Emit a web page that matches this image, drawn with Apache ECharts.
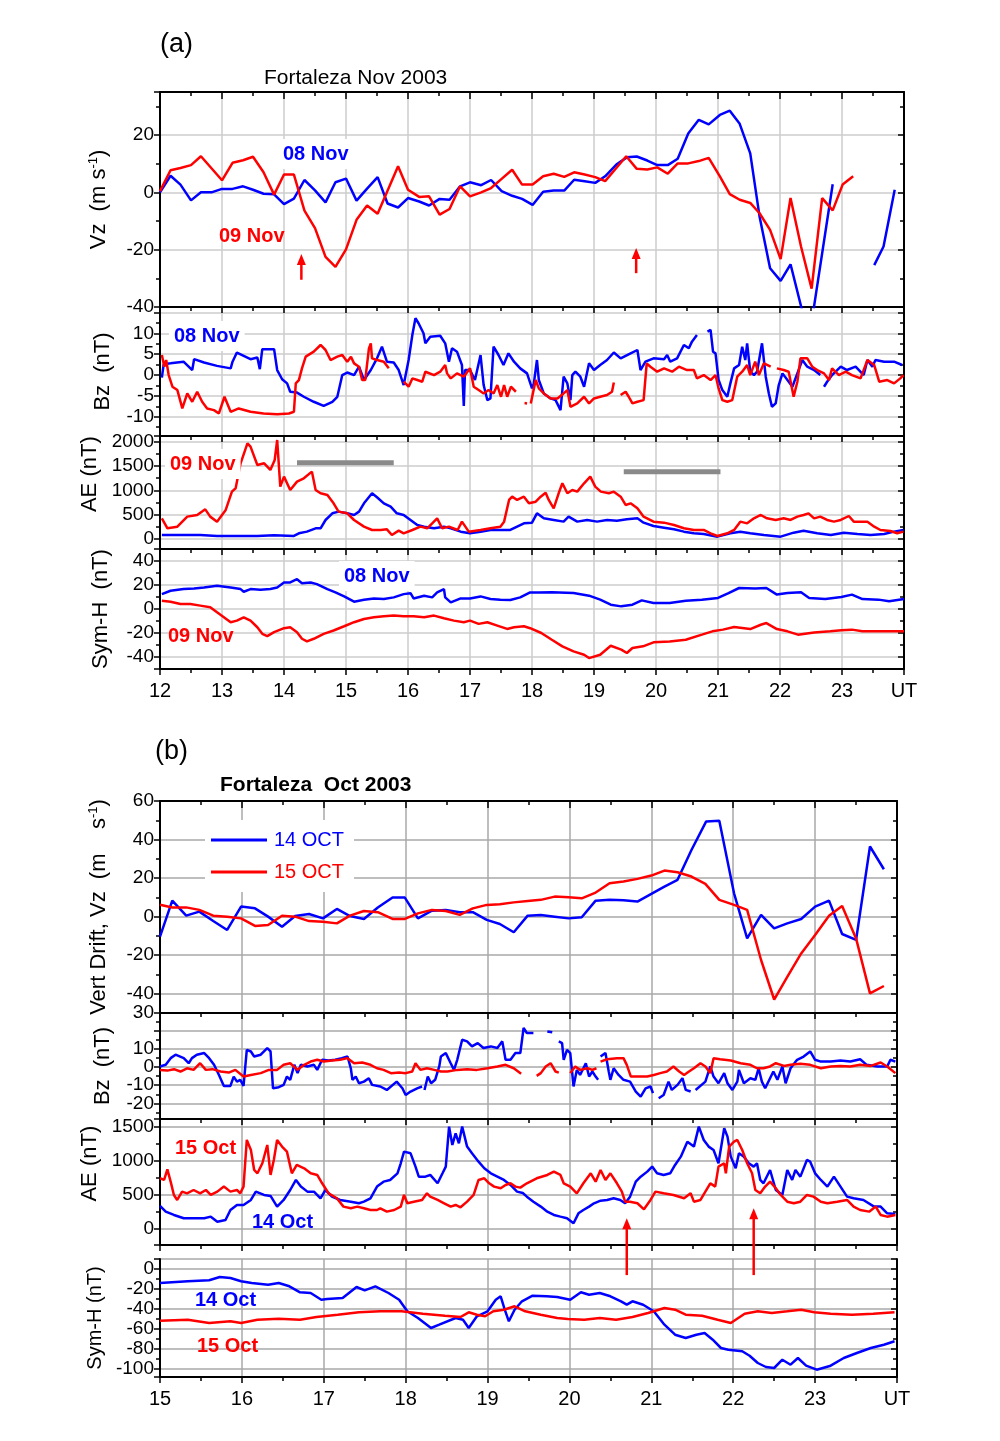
<!DOCTYPE html>
<html><head><meta charset="utf-8">
<script src="https://cdn.jsdelivr.net/npm/echarts@6/dist/echarts.min.js"></script>
<style>html,body{margin:0;padding:0;background:#fff}#c{width:1000px;height:1441px}</style>
</head><body><div id="c"></div>
<script>
// ---------------- DATA (hour UT, value) ----------------
const lastTickLabel = 'UT';
const hoursA = [12, 24];
const hoursB = [15, 24];

const vzA08 = [[12.0,0],[12.17,5.8],[12.33,2.7],[12.5,-2.8],[12.66,0],[12.83,0],[13.0,1.2],[13.17,1.2],[13.34,2.1],[13.5,0.9],[13.67,-0.5],[13.84,-0.7],[14.0,-4.1],[14.16,-2.2],[14.33,4.3],[14.5,0.7],[14.67,-3.5],[14.83,3.5],[15.0,4.8],[15.17,-2.9],[15.34,1.3],[15.51,5.3],[15.67,-3.9],[15.84,-5.3],[16.0,-2.0],[16.18,-3.2],[16.34,-4.6],[16.51,-2.3],[16.67,-2.6],[16.84,2.1],[17.0,3.5],[17.18,2.5],[17.34,4.3],[17.51,0.4],[17.68,-1.2],[17.84,-2.3],[18.01,-4.4],[18.18,0.2],[18.35,0.6],[18.52,0.6],[18.68,4.4],[18.85,3.9],[19.02,3.3],[19.18,5.6],[19.36,9.7],[19.53,12.2],[19.69,12.5],[19.86,11.1],[20.02,9.5],[20.19,9.5],[20.35,11.7],[20.52,20.5],[20.69,25.3],[20.85,23.7],[21.03,27.0],[21.19,28.5],[21.35,23.9],[21.52,13.6],[21.67,-8.4],[21.84,-26.5],[22.01,-30.9],[22.17,-25.1],[22.47,-51],[22.85,2.8],[23.2,null],[23.52,-25.4],[23.67,-18.9],[23.85,0.9]];
const vzA09 = [[12.0,0.4],[12.17,7.7],[12.33,8.5],[12.5,9.5],[12.66,12.6],[13.0,4.2],[13.17,10.3],[13.34,11.2],[13.5,12.4],[13.67,7.0],[13.84,-0.8],[14.0,6.2],[14.16,6.2],[14.33,-6.4],[14.5,-12.5],[14.67,-22.5],[14.83,-26.0],[15.0,-19.9],[15.17,-9.6],[15.34,-4.6],[15.51,-7.5],[15.84,9.1],[16.0,0.9],[16.18,-1.6],[16.34,-1.4],[16.51,-7.8],[16.67,-5.8],[16.84,2.1],[17.0,-1.4],[17.18,0],[17.34,1.5],[17.51,4.7],[17.68,7.9],[17.84,2.7],[18.01,2.7],[18.18,5.6],[18.35,6.5],[18.52,5.4],[18.68,7.0],[18.85,6.2],[19.02,5.3],[19.18,3.9],[19.36,8.5],[19.52,12.6],[19.69,8.2],[19.86,8.0],[20.02,8.7],[20.19,6.5],[20.35,10.1],[20.52,10.1],[20.69,10.9],[20.85,12.0],[21.03,5.6],[21.19,-0.6],[21.35,-2.6],[21.52,-3.7],[21.67,-7.3],[21.84,-13.1],[22.01,-23.3],[22.17,-2.0],[22.34,-19.0],[22.51,-33.6],[22.68,-2.0],[22.85,-6.3],[23.01,2.7],[23.18,5.6]];

const bzA08 = [[12.03,-0.6],[12.06,2.6],[12.17,2.8],[12.38,3.2],[12.52,1.2],[12.55,3.8],[12.71,3.0],[12.92,2.2],[13.14,1.6],[13.17,3.2],[13.24,5.4],[13.35,4.6],[13.46,3.8],[13.57,4.2],[13.61,1.4],[13.65,6.2],[13.84,6.2],[13.89,1.2],[13.97,-1.0],[14.05,-2.0],[14.1,-4.0],[14.21,-4.2],[14.32,-5.2],[14.48,-6.4],[14.64,-7.4],[14.78,-6.4],[14.86,-5.2],[14.94,0],[15.02,0.6],[15.13,0],[15.21,2.0],[15.29,-1.2],[15.4,1.2],[15.5,4.0],[15.58,6.8],[15.66,3.2],[15.77,3.0],[15.85,1.2],[15.93,-2.4],[16.01,3.6],[16.07,9.6],[16.12,13.6],[16.17,12.4],[16.25,10.0],[16.28,7.6],[16.36,9.2],[16.52,9.4],[16.6,7.6],[16.66,3.2],[16.71,6.4],[16.79,5.6],[16.87,2.4],[16.9,-7.4],[16.92,1.2],[17.0,1.2],[17.08,-1.2],[17.17,4.8],[17.22,-2.4],[17.28,-6.0],[17.33,-5.6],[17.38,6.8],[17.46,4.8],[17.54,2.4],[17.62,5.2],[17.71,3.2],[17.81,1.6],[17.92,0.4],[18.0,-3.2],[18.03,-2],[18.08,3.6],[18.11,-1.2],[18.19,-4.4],[18.3,-5.6],[18.38,-6.0],[18.46,-8.4],[18.51,-0.4],[18.57,-2],[18.62,-6],[18.65,0],[18.7,0.8],[18.78,-0.4],[18.84,-2.8],[18.92,2.8],[19.0,1.2],[19.1,2.4],[19.21,3.6],[19.32,5.4],[19.43,4.0],[19.59,5.2],[19.7,6.0],[19.75,1.2],[19.83,3.2],[19.96,4.0],[20.13,3.8],[20.18,4.8],[20.23,3.2],[20.34,4.0],[20.45,7.2],[20.53,6.4],[20.58,8.0],[20.66,9.6],[20.72,null],[20.83,10.4],[20.88,10.8],[20.92,5.6],[20.96,5.2],[21.01,-1.2],[21.07,-3.6],[21.15,-5.2],[21.2,-2.0],[21.26,1.6],[21.34,2.4],[21.39,6.8],[21.44,3.6],[21.47,7.6],[21.52,0.8],[21.58,0],[21.63,0.8],[21.71,7.6],[21.77,-0.4],[21.82,-4.4],[21.87,-7.6],[21.93,-6.8],[21.98,-2.4],[22.04,0.4],[22.12,-1.2],[22.2,-2.8],[22.28,0.4],[22.36,3.6],[22.44,2.0],[22.55,1.2],[22.65,0],[22.68,null],[22.71,-2.8],[22.76,-1.6],[22.84,0],[22.98,2.0],[23.08,1.2],[23.22,2.0],[23.35,0],[23.41,3.6],[23.49,2.0],[23.54,3.6],[23.68,3.2],[23.84,3.2],[23.97,2.4]];
const bzA09 = [[12.03,4.8],[12.07,2.0],[12.1,3.6],[12.14,0],[12.2,-2.8],[12.28,-3.6],[12.36,-8],[12.44,-4.4],[12.52,-6.4],[12.6,-4],[12.68,-6.4],[12.76,-8],[12.87,-8.4],[12.95,-9.2],[13.04,-5.2],[13.14,-8.8],[13.27,-8],[13.46,-8.8],[13.67,-9.2],[13.89,-9.4],[14.08,-9.2],[14.16,-8.8],[14.19,-2],[14.24,-1.2],[14.29,1.6],[14.35,4.4],[14.48,5.6],[14.59,7.2],[14.67,6.0],[14.75,3.6],[14.86,4.4],[14.94,4.8],[15.02,3.2],[15.08,4.4],[15.13,2.8],[15.21,2.0],[15.26,-1.2],[15.31,-1.2],[15.37,6.4],[15.4,7.6],[15.42,4.0],[15.5,3.6],[15.61,3.2],[15.69,1.6],[15.72,null],[15.93,-1.6],[16.01,-2.8],[16.07,-0.8],[16.15,-1.2],[16.23,-1.6],[16.28,0.8],[16.42,0],[16.52,0.8],[16.6,2.4],[16.63,0.4],[16.69,-0.8],[16.79,0.4],[16.9,-0.4],[17.0,1.6],[17.06,-2.8],[17.14,-3.6],[17.22,-4.4],[17.3,-3.6],[17.38,-4.4],[17.44,-2.4],[17.5,-5.2],[17.55,-2.4],[17.6,-5.2],[17.66,-2.8],[17.74,-4.0],[17.8,null],[17.88,-6.7],[17.92,-6.8],[17.94,null],[17.98,-6.8],[18.06,-1.2],[18.11,-3.2],[18.19,-4.4],[18.3,-5.6],[18.41,-5.6],[18.51,-4.4],[18.57,-3.6],[18.62,-7.6],[18.73,-6.8],[18.84,-5.2],[18.92,-6.8],[19.0,-5.6],[19.1,-5.2],[19.21,-4.8],[19.29,-4.0],[19.32,-1.8],[19.36,null],[19.43,-4.8],[19.51,-4.0],[19.56,-5.2],[19.62,-6.8],[19.7,-6.4],[19.8,-6.0],[19.85,2.8],[19.91,2.0],[20.02,0.8],[20.13,1.6],[20.26,0.8],[20.37,2.0],[20.5,1.2],[20.61,1.2],[20.66,-0.8],[20.77,0],[20.88,-1.2],[20.96,0],[21.01,-3.2],[21.07,-6],[21.15,-6.4],[21.23,-6],[21.31,-0.4],[21.39,0.8],[21.47,2.4],[21.52,0],[21.6,3.2],[21.66,0],[21.74,2.8],[21.85,2.0],[21.9,null],[21.95,1.6],[22.06,1.2],[22.14,0.8],[22.22,-5.2],[22.28,-1.6],[22.33,4.0],[22.44,4.0],[22.52,2.0],[22.6,1.2],[22.71,0.4],[22.79,-1.2],[22.84,1.6],[22.95,0],[23.06,0.8],[23.16,0],[23.3,-0.8],[23.41,3.6],[23.52,2.4],[23.6,-1.6],[23.73,-1.2],[23.84,-2.0],[23.94,-0.8],[23.99,0]];

const aeA08 = [[12.03,82],[12.38,82],[12.65,82],[12.92,62],[13.24,62],[13.57,62],[13.84,75],[14.16,62],[14.24,117],[14.37,151],[14.51,220],[14.59,220],[14.67,391],[14.78,528],[14.88,563],[15.02,528],[15.13,494],[15.21,563],[15.29,734],[15.42,940],[15.5,858],[15.61,734],[15.72,665],[15.82,528],[15.93,494],[16.04,391],[16.15,288],[16.26,254],[16.42,220],[16.58,254],[16.69,220],[16.85,151],[17.0,117],[17.17,151],[17.33,185],[17.49,185],[17.65,185],[17.76,254],[17.87,322],[18.0,336],[18.08,528],[18.19,425],[18.35,391],[18.51,357],[18.59,460],[18.73,357],[18.89,391],[19.05,357],[19.21,391],[19.37,377],[19.53,405],[19.7,425],[19.8,336],[19.96,268],[20.13,233],[20.29,199],[20.45,151],[20.61,117],[20.77,103],[20.99,48],[21.2,117],[21.36,151],[21.52,117],[21.74,82],[22.01,48],[22.22,130],[22.38,171],[22.6,117],[22.82,82],[23.03,130],[23.25,103],[23.46,82],[23.68,103],[23.84,151],[23.99,185]];
const aeA09 = [[12.03,425],[12.12,220],[12.28,254],[12.44,460],[12.6,494],[12.73,610],[12.81,460],[12.92,357],[13.06,597],[13.16,974],[13.22,1043],[13.3,1557],[13.41,1969],[13.46,1900],[13.57,1523],[13.68,1557],[13.78,1420],[13.85,1626],[13.89,2037],[13.94,1077],[14.0,1283],[14.1,1008],[14.21,1180],[14.32,1249],[14.45,1386],[14.51,1008],[14.59,940],[14.7,906],[14.8,734],[14.88,563],[15.02,528],[15.13,391],[15.29,254],[15.42,185],[15.56,185],[15.66,199],[15.74,82],[15.85,171],[15.93,117],[16.07,185],[16.2,254],[16.31,220],[16.39,322],[16.47,425],[16.55,220],[16.66,254],[16.8,185],[16.87,357],[16.98,151],[17.17,185],[17.33,220],[17.49,254],[17.55,357],[17.63,803],[17.68,871],[17.76,803],[17.87,871],[17.95,734],[18.06,768],[18.14,871],[18.22,953],[18.27,803],[18.35,631],[18.43,940],[18.49,1146],[18.57,940],[18.65,1008],[18.73,974],[18.84,1146],[18.94,1283],[19.02,1077],[19.11,974],[19.24,940],[19.32,974],[19.43,871],[19.51,700],[19.59,734],[19.7,631],[19.8,460],[19.96,357],[20.13,336],[20.29,288],[20.45,220],[20.61,185],[20.77,185],[20.88,117],[20.99,62],[21.15,117],[21.26,185],[21.36,357],[21.47,322],[21.58,425],[21.69,494],[21.79,425],[21.93,391],[22.06,425],[22.17,391],[22.28,460],[22.38,494],[22.46,528],[22.55,425],[22.65,460],[22.76,391],[22.87,357],[22.98,391],[23.11,473],[23.19,357],[23.3,357],[23.41,357],[23.52,254],[23.62,185],[23.78,165],[23.89,117],[23.99,151]];
const aeABars = [[14.21,15.77,1570],[19.48,21.04,1385]];

const symA08 = [[12.03,12.4],[12.17,15.2],[12.38,16.6],[12.55,17.1],[12.71,17.9],[12.92,19.3],[13.14,17.9],[13.3,16.6],[13.35,14.4],[13.46,16.6],[13.62,16.0],[13.78,16.6],[13.89,17.9],[14.0,22.1],[14.1,22.1],[14.21,24.8],[14.29,21.5],[14.43,22.1],[14.53,20.7],[14.7,16.6],[14.83,13.8],[14.97,10.5],[15.13,6.1],[15.29,7.7],[15.45,8.8],[15.61,8.3],[15.77,9.7],[15.93,12.4],[16.04,13.2],[16.09,8.8],[16.26,11.0],[16.39,9.7],[16.47,13.8],[16.58,16.6],[16.6,9.7],[16.69,5.5],[16.85,8.8],[17.0,8.8],[17.17,10.5],[17.33,8.3],[17.49,7.7],[17.65,7.5],[17.81,9.7],[17.97,13.8],[18.11,13.8],[18.32,13.9],[18.67,13.3],[18.92,11.1],[19.1,7.8],[19.27,3.6],[19.44,2.2],[19.62,3.6],[19.77,7.2],[19.96,5.0],[20.22,5.0],[20.48,6.9],[20.74,7.8],[21.0,9.2],[21.17,13.3],[21.34,17.5],[21.6,17.0],[21.78,17.5],[21.95,12.0],[22.12,13.3],[22.34,13.9],[22.47,9.2],[22.73,8.3],[22.99,10.0],[23.16,12.0],[23.33,8.3],[23.59,7.8],[23.76,6.4],[24.0,8.3]];
const symA09 = [[12.03,6.9],[12.17,6.1],[12.33,4.1],[12.49,4.1],[12.65,2.8],[12.81,1.4],[12.92,-2.8],[13.03,-6.9],[13.14,-11.0],[13.24,-9.7],[13.35,-6.9],[13.46,-9.7],[13.57,-15.2],[13.65,-20.7],[13.73,-22.6],[13.84,-19.3],[14.0,-16.0],[14.1,-15.2],[14.21,-19.3],[14.29,-24.8],[14.37,-27.0],[14.48,-24.8],[14.64,-20.7],[14.8,-17.9],[14.97,-14.4],[15.13,-11.0],[15.29,-8.3],[15.45,-6.9],[15.61,-6.1],[15.77,-5.5],[15.93,-6.1],[16.09,-6.1],[16.26,-6.9],[16.42,-5.5],[16.58,-7.7],[16.74,-9.7],[16.9,-11.0],[17.0,-9.7],[17.14,-12.4],[17.28,-11.0],[17.44,-13.8],[17.6,-16.6],[17.71,-15.2],[17.87,-14.4],[17.97,-16.0],[18.15,-20],[18.32,-25.6],[18.49,-31.1],[18.67,-35.3],[18.84,-38.1],[18.92,-40.9],[19.1,-38.1],[19.27,-30.6],[19.44,-33.9],[19.53,-36.7],[19.62,-32.5],[19.79,-31.1],[19.96,-27.8],[20.22,-27.0],[20.48,-25.6],[20.74,-21.4],[20.91,-18.6],[21.08,-17.2],[21.26,-15.0],[21.52,-16.7],[21.69,-13.1],[21.78,-11.7],[21.95,-16.7],[22.12,-18.6],[22.29,-21.4],[22.55,-19.5],[22.81,-18.6],[22.99,-17.8],[23.16,-17.2],[23.33,-18.6],[23.59,-18.6],[24.0,-18.6]];

const vzB14 = [[15.0,-10.4],[15.15,8.3],[15.32,0.5],[15.48,2.6],[15.65,-2.3],[15.82,-6.9],[15.99,5.2],[16.16,4.3],[16.32,0],[16.49,-5.2],[16.65,0.3],[16.82,1.4],[16.99,-0.9],[17.16,4.0],[17.32,0.3],[17.49,-1.2],[17.66,4.7],[17.84,9.9],[17.99,9.9],[18.15,-0.9],[18.32,3.1],[18.49,3.5],[18.66,2.3],[18.82,2.3],[18.99,-1.7],[19.15,-3.8],[19.32,-8.1],[19.49,0.5],[19.65,0.9],[19.82,0],[19.99,-0.9],[20.15,-0.3],[20.32,8.3],[20.49,8.7],[20.66,8.5],[20.83,7.8],[21.0,11.8],[21.16,15.6],[21.32,19.1],[21.49,34.6],[21.67,49.4],[21.83,49.7],[22.01,12.1],[22.17,-11.3],[22.34,0.9],[22.5,-6.1],[22.66,-3.5],[22.83,-1.2],[23.0,5.2],[23.17,8.3],[23.33,-9.0],[23.5,-12.1],[23.67,36.4],[23.84,24.6]];
const vzB15 = [[15.0,6.2],[15.15,4.7],[15.32,4.8],[15.48,3.5],[15.65,0.5],[15.82,0],[15.99,-0.9],[16.16,-4.8],[16.32,-4.3],[16.49,0.5],[16.65,0],[16.82,-2.3],[16.99,-2.6],[17.16,-3.5],[17.32,0.5],[17.49,2.9],[17.66,2.3],[17.84,-1.2],[17.99,-1.2],[18.15,1.7],[18.32,3.5],[18.49,2.9],[18.66,0.9],[18.82,4.3],[18.99,6.1],[19.15,6.4],[19.32,7.4],[19.49,8.1],[19.65,8.7],[19.82,10.4],[19.99,10.0],[20.15,9.5],[20.32,12.5],[20.49,17.3],[20.66,18.2],[20.83,19.6],[21.0,21.3],[21.16,23.9],[21.32,23.0],[21.49,20.8],[21.66,17.0],[21.83,8.7],[22.01,6.1],[22.17,3.5],[22.34,-22.5],[22.5,-43.0],[22.66,-31.2],[22.83,-19.1],[23.0,-9.5],[23.17,0.5],[23.33,5.5],[23.5,-11.3],[23.67,-39.8],[23.84,-36.0]];

const bzB14 = [[15.0,0.4],[15.07,1.3],[15.13,5.0],[15.19,6.9],[15.29,5.0],[15.35,2.2],[15.39,5.0],[15.45,6.9],[15.54,7.8],[15.6,5.0],[15.66,1.3],[15.72,-4.3],[15.78,-10.4],[15.86,-10.4],[15.9,-5.2],[15.94,-8.0],[15.98,-7.0],[16.02,-10.4],[16.06,9.6],[16.11,8.7],[16.15,5.9],[16.23,6.9],[16.31,10.6],[16.35,8.7],[16.38,-11.7],[16.45,-11.1],[16.51,-9.8],[16.55,-5.2],[16.59,-7.0],[16.64,1.3],[16.68,-3.3],[16.72,1.3],[16.8,0.4],[16.88,1.3],[16.92,-1.5],[16.98,4.1],[17.06,3.7],[17.14,4.1],[17.22,5.0],[17.29,5.9],[17.33,-0.6],[17.35,-7.0],[17.39,-5.2],[17.43,-8.9],[17.49,-8.0],[17.55,-6.1],[17.59,-9.8],[17.69,-10.7],[17.77,-12.6],[17.89,-8.0],[17.96,-11.7],[18.0,-15.4],[18.06,-13.5],[18.14,-11.7],[18.2,-10.7],[18.215,null],[18.23,-12.6],[18.27,-5.2],[18.31,-8.9],[18.36,-7.0],[18.41,0.4],[18.43,5.9],[18.49,7.8],[18.55,2.2],[18.59,-1.5],[18.63,4.1],[18.69,15.2],[18.75,14.3],[18.81,11.5],[18.88,13.3],[18.95,10.6],[19.04,11.5],[19.12,10.6],[19.18,14.3],[19.22,4.1],[19.28,4.1],[19.34,7.8],[19.4,7.8],[19.44,21.7],[19.48,18.9],[19.56,18.9],[19.64,null],[19.73,19.8],[19.79,19.3],[19.83,null],[19.87,14.3],[19.91,13.3],[19.93,4.1],[19.97,9.6],[20.01,7.8],[20.05,-10.7],[20.09,-1.5],[20.13,-4.3],[20.2,2.2],[20.24,-5.2],[20.28,-2.4],[20.32,-5.2],[20.35,-7.0],[20.365,null],[20.38,5.9],[20.44,7.8],[20.48,-2.4],[20.5,-7.0],[20.54,-0.6],[20.6,-4.3],[20.66,-7.0],[20.74,-8.0],[20.81,-13.5],[20.87,-16.3],[20.93,-11.7],[20.99,-10.7],[21.02,-14.4],[21.05,null],[21.09,-17.2],[21.15,-15.4],[21.21,-8.0],[21.25,-12.6],[21.32,-9.8],[21.38,-6.1],[21.42,-12.6],[21.48,-13.5],[21.51,null],[21.54,-12.6],[21.66,-8.0],[21.72,0.4],[21.76,-5.2],[21.82,-8.9],[21.89,-3.3],[21.93,-8.9],[21.99,-12.6],[22.05,-8.0],[22.07,-1.5],[22.13,-8.9],[22.21,-6.1],[22.27,-7.0],[22.31,-0.6],[22.35,-8.0],[22.39,-11.7],[22.45,-6.1],[22.49,-2.4],[22.54,-7.0],[22.6,0.4],[22.64,-8.9],[22.7,-0.6],[22.78,4.1],[22.86,5.9],[22.94,8.7],[23.0,4.1],[23.07,3.1],[23.19,3.1],[23.31,3.7],[23.43,3.1],[23.55,4.4],[23.63,1.3],[23.76,0.4],[23.88,0.4],[23.92,4.1],[23.98,3.1]];
const bzB15 = [[15.0,-1.5],[15.09,-1.9],[15.17,-1.1],[15.25,-2.4],[15.33,-0.6],[15.41,-1.5],[15.49,2.2],[15.56,-1.5],[15.64,-1.1],[15.74,-2.4],[15.84,-3.0],[15.92,-1.5],[16.02,-5.2],[16.11,-4.3],[16.23,-3.3],[16.33,-1.5],[16.43,-1.5],[16.51,1.3],[16.59,2.2],[16.68,-1.5],[16.76,1.3],[16.84,3.1],[16.92,4.1],[17.0,3.1],[17.1,3.7],[17.2,4.1],[17.29,5.0],[17.37,2.2],[17.47,2.6],[17.57,1.3],[17.65,-0.6],[17.73,-1.5],[17.82,-3.3],[17.92,-3.0],[18.0,-3.3],[18.08,-2.4],[18.12,2.2],[18.18,-1.5],[18.26,-0.6],[18.35,-1.5],[18.43,-2.4],[18.51,-2.4],[18.63,-1.5],[18.75,-1.1],[18.87,-1.5],[19.0,-0.6],[19.12,0.4],[19.22,1.3],[19.32,-0.6],[19.41,-3.7],[19.5,null],[19.6,-4.8],[19.65,-3.3],[19.71,0.4],[19.77,2.2],[19.83,-2.4],[19.87,-3.0],[19.94,null],[20.01,-3.3],[20.07,0.4],[20.13,-1.5],[20.22,-0.6],[20.28,-1.5],[20.33,-0.6],[20.355,null],[20.38,3.1],[20.46,4.4],[20.58,5.0],[20.66,5.0],[20.7,1.3],[20.75,-5.2],[20.83,-5.2],[20.95,-5.2],[21.03,-4.3],[21.11,-3.3],[21.19,-2.4],[21.27,0.4],[21.34,-2.4],[21.4,-4.3],[21.46,-2.4],[21.52,-0.6],[21.6,2.2],[21.66,0.4],[21.72,-3.3],[21.76,5.0],[21.84,4.4],[21.97,3.7],[22.09,2.2],[22.21,1.3],[22.29,-0.6],[22.37,-0.6],[22.45,0.4],[22.52,2.2],[22.62,0.7],[22.7,1.3],[22.82,1.9],[22.94,1.3],[23.07,-0.6],[23.19,0.4],[23.31,0.7],[23.43,0.4],[23.55,1.3],[23.68,0.7],[23.8,2.6],[23.88,0.4],[23.98,-3.3]];

const aeB14 = [[15.0,330],[15.07,246],[15.17,197],[15.29,148],[15.41,148],[15.54,148],[15.62,172],[15.7,98],[15.8,123],[15.86,270],[15.94,344],[16.02,344],[16.11,418],[16.17,541],[16.27,492],[16.35,477],[16.43,320],[16.51,418],[16.59,565],[16.66,713],[16.72,615],[16.8,541],[16.88,541],[16.96,443],[17.02,565],[17.1,467],[17.2,418],[17.33,393],[17.43,369],[17.49,393],[17.57,443],[17.65,615],[17.73,688],[17.81,713],[17.9,811],[17.94,959],[17.98,1131],[18.06,1106],[18.12,910],[18.16,762],[18.24,762],[18.3,787],[18.39,664],[18.45,811],[18.49,910],[18.53,1500],[18.57,1229],[18.61,1401],[18.65,1254],[18.69,1500],[18.75,1205],[18.81,1106],[18.89,983],[18.96,885],[19.04,811],[19.12,762],[19.2,713],[19.28,639],[19.36,541],[19.43,520],[19.48,467],[19.56,393],[19.65,320],[19.73,246],[19.81,197],[19.89,172],[19.97,148],[20.05,74],[20.11,221],[20.17,270],[20.24,320],[20.3,369],[20.38,408],[20.46,418],[20.54,443],[20.62,418],[20.68,369],[20.74,467],[20.81,688],[20.87,762],[20.95,836],[21.01,910],[21.07,811],[21.15,787],[21.23,811],[21.29,934],[21.36,1057],[21.44,1278],[21.52,1205],[21.58,1500],[21.64,1303],[21.7,1205],[21.76,1155],[21.82,959],[21.89,1475],[21.93,1352],[21.97,1057],[22.03,885],[22.07,1106],[22.13,1057],[22.19,959],[22.25,910],[22.29,959],[22.33,713],[22.37,664],[22.45,860],[22.52,565],[22.6,492],[22.66,860],[22.72,713],[22.76,860],[22.82,762],[22.9,1008],[22.94,983],[23.0,811],[23.07,713],[23.15,615],[23.23,762],[23.31,615],[23.39,467],[23.47,443],[23.59,418],[23.72,320],[23.8,320],[23.88,221],[23.98,211]];
const aeB15 = [[15.0,738],[15.05,713],[15.09,870],[15.13,688],[15.17,492],[15.21,418],[15.27,541],[15.33,516],[15.41,565],[15.49,516],[15.56,565],[15.62,492],[15.7,541],[15.78,615],[15.86,541],[15.94,565],[15.98,516],[16.02,615],[16.06,1303],[16.11,1155],[16.15,860],[16.19,811],[16.25,959],[16.31,1229],[16.35,787],[16.39,1008],[16.43,1303],[16.49,1205],[16.55,1131],[16.61,811],[16.67,934],[16.76,885],[16.84,811],[16.92,787],[16.98,664],[17.06,516],[17.16,443],[17.24,320],[17.33,295],[17.41,320],[17.49,295],[17.57,270],[17.65,270],[17.69,295],[17.77,246],[17.86,270],[17.94,320],[17.98,492],[18.02,369],[18.1,393],[18.2,418],[18.26,516],[18.3,467],[18.39,418],[18.47,369],[18.55,320],[18.61,344],[18.67,310],[18.75,393],[18.83,492],[18.89,713],[18.96,738],[19.02,664],[19.08,615],[19.16,590],[19.22,639],[19.28,664],[19.34,615],[19.4,600],[19.48,664],[19.6,738],[19.73,787],[19.81,836],[19.89,787],[19.93,664],[20.01,615],[20.09,516],[20.17,664],[20.26,811],[20.32,688],[20.38,860],[20.44,713],[20.5,811],[20.58,664],[20.64,541],[20.68,393],[20.74,393],[20.83,369],[20.91,280],[20.99,418],[21.05,541],[21.15,516],[21.27,492],[21.4,443],[21.48,516],[21.52,393],[21.6,418],[21.66,541],[21.72,664],[21.78,615],[21.82,910],[21.89,959],[21.91,811],[21.95,1205],[22.01,1278],[22.05,1303],[22.11,1155],[22.17,959],[22.23,811],[22.27,565],[22.33,516],[22.39,615],[22.45,688],[22.52,590],[22.58,492],[22.66,393],[22.74,369],[22.82,393],[22.9,492],[22.98,467],[23.07,393],[23.15,369],[23.27,393],[23.39,418],[23.47,320],[23.55,270],[23.66,246],[23.74,320],[23.8,197],[23.88,172],[23.98,197]];

const symB14 = [[15.0,-14],[15.34,-12.3],[15.6,-11.3],[15.73,-8],[15.86,-9],[15.99,-12.3],[16.12,-14],[16.32,-15.7],[16.45,-14],[16.58,-17.3],[16.71,-23.3],[16.84,-24],[16.97,-30.7],[17.04,-30],[17.23,-29],[17.4,-18],[17.5,-21.3],[17.63,-17.3],[17.79,-24],[17.92,-30.7],[18.02,-42.3],[18.15,-49],[18.31,-59],[18.41,-55.7],[18.61,-49],[18.7,-50.7],[18.77,-59],[18.87,-47.3],[19.0,-42.3],[19.1,-30.7],[19.16,-27.3],[19.21,-40.7],[19.26,-52.3],[19.33,-40.7],[19.42,-32.3],[19.55,-26.7],[19.72,-27.3],[19.85,-28],[20.01,-30.7],[20.14,-23.3],[20.24,-25.7],[20.37,-24],[20.5,-27.3],[20.63,-32.3],[20.7,-35.7],[20.77,-32.3],[20.9,-35.7],[21.03,-42.3],[21.16,-55.7],[21.29,-65.7],[21.42,-69],[21.55,-65.7],[21.65,-64],[21.75,-70.7],[21.85,-79],[21.94,-80.7],[22.11,-82.3],[22.2,-86.7],[22.3,-94],[22.4,-98],[22.5,-99],[22.6,-90.7],[22.7,-95.7],[22.79,-89],[22.89,-96.7],[23.02,-100.7],[23.19,-96.7],[23.35,-89],[23.51,-84],[23.68,-79],[23.84,-75.7],[23.97,-72.3]];
const symB15 = [[15.0,-51.7],[15.34,-50.7],[15.6,-54],[15.86,-52.3],[15.99,-54],[16.19,-50.7],[16.45,-49.7],[16.71,-50.7],[16.91,-48],[17.17,-45.7],[17.43,-43.3],[17.69,-42.3],[17.95,-42.3],[18.21,-44.7],[18.48,-46.7],[18.67,-48],[18.77,-43.3],[18.87,-45.7],[18.97,-47.3],[19.07,-42.3],[19.2,-40.7],[19.33,-37.3],[19.46,-42.3],[19.65,-45.7],[19.85,-49],[19.98,-50],[20.18,-50.7],[20.37,-49],[20.57,-50.7],[20.77,-48],[20.96,-44],[21.16,-39],[21.29,-40.7],[21.42,-45.7],[21.62,-46.7],[21.81,-50.7],[21.97,-54],[22.14,-44.7],[22.3,-42.3],[22.47,-44],[22.66,-42.3],[22.83,-40.7],[22.99,-43.3],[23.19,-44.7],[23.45,-45.7],[23.71,-44.7],[23.97,-43.3]];

// arrows: [hour, base value, tip value]
const arrowsA = [[14.28,-30.5,-21.5],[19.68,-28.2,-19.4]];
const arrowsB = [[20.70,-690,147],[22.25,-690,295]];

// ---------------- CHART ----------------
const FONT = '"Liberation Sans", Arial, Helvetica, sans-serif';
const BLUE = '#0000ff', RED = '#ff0000';
const GA = '#cdcdcd', GB = '#a9a9a9';

const panels = [
  {grid:{left:160,top:92,width:744,height:215}, x:hoursA, y:[-40,35], iv:20, show:[-40,20], name:'{a|Vz  (m s}{s|-1}{a|)}', gap:50, gc:GA, top:true, xl:false},
  {grid:{left:160,top:307,width:744,height:129}, x:hoursA, y:[-14.6,16.3], iv:5, show:[-10,10], name:'Bz  (nT)', gap:46, gc:GA},
  {grid:{left:160,top:436,width:744,height:113}, x:hoursA, y:[-206,2119], iv:500, show:[0,2000], name:'      AE (nT)', gap:46, gc:GA},
  {grid:{left:160,top:549,width:744,height:120}, x:hoursA, y:[-50,50], iv:20, show:[-40,40], name:'Sym-H  (nT)', gap:48, gc:GA, xl:true},
  {grid:{left:160,top:801,width:737,height:212}, x:hoursB, y:[-50,60], iv:20, show:[-40,60], name:'{a|Vert Drift, Vz  (m    s}{s|-1}{a|)}', gap:50, gc:GB, top:true},
  {grid:{left:160,top:1013,width:737,height:106}, x:hoursB, y:[-28.7,30], iv:10, show:[-20,30], name:'Bz  (nT)', gap:46, gc:GB},
  {grid:{left:160,top:1119,width:737,height:126}, x:hoursB, y:[-246,1612], iv:500, show:[0,1500], name:'      AE (nT)', gap:46, gc:GB},
  {grid:{left:160,top:1259,width:737,height:118}, x:hoursB, y:[-108,10], iv:20, show:[-100,0], name:'Sym-H (nT)', gap:52, gc:GB, xl:true, nameSize:20},
];

const grids = [], xAxes = [], yAxes = [], xTop = [], yRight = [];
const tickLine = {color:'#000', width:1.5};
panels.forEach((p, i) => {
  grids.push(Object.assign({containLabel:false}, p.grid));
  xAxes.push({
    type:'value', gridIndex:i, position:'bottom', min:p.x[0], max:p.x[1], interval:1,
    axisLine:{show:true, onZero:false, lineStyle:{color:'#000', width:2}},
    axisTick:{show:true, inside:false, length:6, lineStyle:tickLine},
    minorTick:{show:true, splitNumber:2, length:4, lineStyle:tickLine},
    axisLabel:{show:!!p.xl, fontSize:20, color:'#000', fontFamily:FONT, margin:12,
      formatter: v => (Math.abs(v - p.x[1]) < 1e-9 ? lastTickLabel : String(v))},
    splitLine:{show:true, lineStyle:{color:p.gc, width:1.5}}
  });
  if (p.top) {
    xTop.push({
      type:'value', gridIndex:i, position:'top', min:p.x[0], max:p.x[1], interval:1,
      axisLine:{show:true, onZero:false, lineStyle:{color:'#000', width:2}},
      axisTick:{show:true, inside:true, length:7, lineStyle:tickLine},
      minorTick:{show:true, splitNumber:2, length:4, lineStyle:tickLine},
      axisLabel:{show:false}, splitLine:{show:false}
    });
  }
  const lo = p.show[0], hi = p.show[1], iv = p.iv;
  yAxes.push({
    type:'value', gridIndex:i, position:'left', min:p.y[0], max:p.y[1], minInterval:iv, maxInterval:iv,
    axisLine:{show:true, onZero:false, lineStyle:{color:'#000', width:2}},
    axisTick:{show:true, inside:false, length:6, lineStyle:tickLine},
    minorTick:{show:true, splitNumber:2, length:4, lineStyle:tickLine},
    axisLabel:{show:true, fontSize:19, color:'#000', fontFamily:FONT, margin:6, showMinLabel:true, showMaxLabel:true,
      formatter: v => { const r = v / iv; if (Math.abs(r - Math.round(r)) > 1e-6) return ''; if (v < lo - 1e-6 || v > hi + 1e-6) return ''; return String(Math.round(v)); }},
    splitLine:{show:true, lineStyle:{color:p.gc, width:1.5}},
    name:p.name, nameLocation:'middle', nameGap:p.gap,
    nameTextStyle:{fontSize:p.nameSize || 22, color:'#000', fontFamily:FONT,
      rich:{a:{fontSize:22, color:'#000', fontFamily:FONT}, s:{fontSize:13, color:'#000', fontFamily:FONT, verticalAlign:'top', padding:[0,0,10,0]}}}
  });
  yRight.push({
    type:'value', gridIndex:i, position:'right', min:p.y[0], max:p.y[1], minInterval:iv, maxInterval:iv,
    axisLine:{show:true, onZero:false, lineStyle:{color:'#000', width:2}},
    axisTick:{show:true, inside:true, length:6, lineStyle:tickLine},
    minorTick:{show:true, splitNumber:2, length:4, lineStyle:tickLine},
    axisLabel:{show:false}, splitLine:{show:false}
  });
});

function line(name, data, color, gi, w) {
  return {type:'line', name, data, xAxisIndex:gi, yAxisIndex:gi, symbol:'none', showSymbol:false,
    connectNulls:false, clip:true, animation:false, lineStyle:{color, width:w || 2.5}, itemStyle:{color}, z:3};
}

const series = [
  line('vz08', vzA08, BLUE, 0), line('vz09', vzA09, RED, 0),
  line('bz08', bzA08, BLUE, 1), line('bz09', bzA09, RED, 1),
  line('ae08', aeA08, BLUE, 2), line('ae09', aeA09, RED, 2),
  line('sym08', symA08, BLUE, 3), line('sym09', symA09, RED, 3),
  line('14 OCT', vzB14, BLUE, 4), line('15 OCT', vzB15, RED, 4),
  line('bz14', bzB14, BLUE, 5), line('bz15', bzB15, RED, 5),
  line('ae14', aeB14, BLUE, 6), line('ae15', aeB15, RED, 6),
  line('sym14', symB14, BLUE, 7), line('sym15', symB15, RED, 7),
];
aeABars.forEach((b, k) => {
  const s = line('bar' + k, [[b[0], b[2]], [b[1], b[2]]], '#8a8a8a', 2, 5);
  s.z = 2; series.push(s);
});

function txt(x, y, text, color, size, bold, bg) {
  const st = {text, x:0, y:0, fill:color, font:(bold ? 'bold ' : '') + size + 'px ' + FONT, align:'left', verticalAlign:'middle'};
  if (bg) { st.backgroundColor = '#fff'; st.padding = [5, 5, 5, 5]; }
  return {type:'text', x, y, z:50, style:st};
}
const texts = [
  txt(160, 45, '(a)', '#000', 27, false),
  txt(264, 78, 'Fortaleza Nov 2003', '#000', 21, false),
  txt(155, 752, '(b)', '#000', 27, false),
  txt(220, 785, 'Fortaleza  Oct 2003', '#000', 21, true),
  txt(278, 154, '08 Nov', BLUE, 20, true, true),
  txt(219, 236, '09 Nov', RED, 20, true),
  txt(169, 336, '08 Nov', BLUE, 20, true, true),
  txt(165, 464, '09 Nov', RED, 20, true, true),
  txt(339, 576, '08 Nov', BLUE, 20, true, true),
  txt(168, 636, '09 Nov', RED, 20, true),
  txt(175, 1148, '15 Oct', RED, 20, true),
  txt(252, 1222, '14 Oct', BLUE, 20, true),
  txt(195, 1300, '14 Oct', BLUE, 20, true),
  txt(197, 1346, '15 Oct', RED, 20, true),
];

const option = {
  animation:false,
  backgroundColor:'#fff',
  textStyle:{fontFamily:FONT},
  grid:grids,
  xAxis:xAxes.concat(xTop),
  yAxis:yAxes.concat(yRight),
  legend:{
    show:true, orient:'vertical', left:205, top:820, icon:'rect', itemWidth:56, itemHeight:3, itemGap:12,
    backgroundColor:'#fff', padding:[10,10,10,6],
    textStyle:{fontSize:20, fontFamily:FONT, padding:[0,0,0,2]},
    data:[{name:'14 OCT', textStyle:{color:BLUE}}, {name:'15 OCT', textStyle:{color:RED}}],
    selectedMode:false
  },
  series,
  graphic:texts
};

const chart = echarts.init(document.getElementById('c'), null, {renderer:'canvas'});
chart.setOption(option);

// arrows placed through the series' own coordinate systems
function arrow(si, a) {
  const p0 = chart.convertToPixel({seriesIndex:si}, [a[0], a[1]]);
  const p1 = chart.convertToPixel({seriesIndex:si}, [a[0], a[2]]);
  const hl = 11, hw = 4.5;
  return [
    {type:'line', z:60, shape:{x1:p0[0], y1:p0[1], x2:p1[0], y2:p1[1] + hl - 1}, style:{stroke:RED, lineWidth:2.5}},
    {type:'polygon', z:60, shape:{points:[[p1[0], p1[1]], [p1[0] - hw, p1[1] + hl], [p1[0] + hw, p1[1] + hl]]}, style:{fill:RED}}
  ];
}
let extra = [];
arrowsA.forEach(a => { extra = extra.concat(arrow(0, a)); });
arrowsB.forEach(a => { extra = extra.concat(arrow(12, a)); });
chart.setOption({graphic: texts.concat(extra)});
</script></body></html>
